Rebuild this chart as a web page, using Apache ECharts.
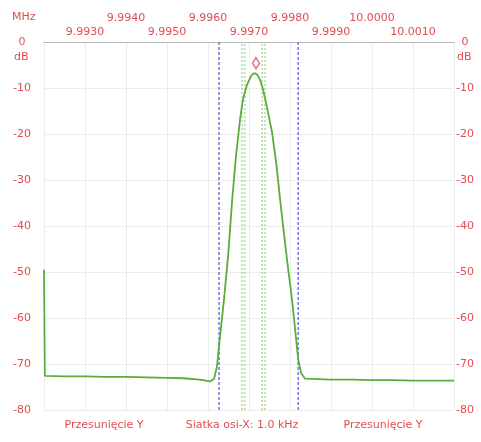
<!DOCTYPE html>
<html>
<head>
<meta charset="utf-8">
<script src="https://cdn.jsdelivr.net/npm/echarts@6/dist/echarts.min.js"></script>
<style>
  html, body { margin: 0; padding: 0; background: #fff; }
  #chart { width: 481px; height: 442px; }
</style>
</head>
<body>
<div id="chart"></div>
<script>
// frequency in MHz, level in dB
const freqs = [
  9.99200, 9.99202, 9.99250, 9.99300, 9.99350, 9.99400, 9.99450, 9.99500, 9.99540, 9.99580,
  9.99605, 9.99615, 9.99622, 9.99627, 9.99639, 9.99649, 9.99659, 9.99668, 9.99678, 9.99685,
  9.99695, 9.99705, 9.99710, 9.99715, 9.99720, 9.99727, 9.99734, 9.99741, 9.99749, 9.99756,
  9.99766, 9.99776, 9.99785, 9.99795, 9.99805, 9.99812, 9.99820, 9.99827, 9.99837, 9.99900,
  9.99950, 10.00000, 10.00050, 10.00100, 10.00150, 10.00200,
];
const levels = [
  -49.5, -72.6, -72.7, -72.7, -72.8, -72.8, -72.9, -73.0, -73.1, -73.4,
  -73.8, -73.2, -70.5, -66, -56, -46.5, -34.3, -25, -17, -12.6,
  -9.3, -7.4, -6.9, -6.8, -7.1, -8.2, -10.2, -13, -16.5, -19.5,
  -26, -34.3, -41.5, -49, -56, -62, -69, -72, -73.2, -73.4,
  -73.4, -73.5, -73.5, -73.6, -73.6, -73.6,
];
const blueMarks = [9.99627, 9.99820];
const greenMarks = [9.99683, 9.99690, 9.99732, 9.99739];
const peakMarker = [9.99717, -4.6];
const bottomTexts = ['Przesunięcie Y', 'Siatka osi-X: 1.0 kHz', 'Przesunięcie Y'];

const RED = '#e24c50';
const FONT = 'DejaVu Sans';

const chart = echarts.init(document.getElementById('chart'));

const xBase = {
  type: 'value',
  min: 9.992,
  max: 10.002,
  interval: 0.001,
  position: 'top',
  axisTick: { show: false },
};
const yBase = {
  type: 'value',
  min: -80,
  max: 0,
  interval: 10,
  axisLine: { show: false },
  axisTick: { show: false },
};

// vertical marker lines as two-point line series
const vLine = (f, color, dash, width) => ({
  type: 'line',
  data: [[f, -80], [f, 0]],
  showSymbol: false,
  silent: true,
  z: 1,
  lineStyle: { color: color, type: dash, width: width },
});

chart.setOption({
  animation: false,
  backgroundColor: '#fff',
  textStyle: { fontFamily: FONT },
  grid: { left: 44, right: 27, top: 42, bottom: 32 },
  xAxis: [
    {
      ...xBase,
      axisLine: { show: true, lineStyle: { color: '#b8b8b8', width: 1 } },
      splitLine: { show: true, lineStyle: { color: '#ececec', width: 1 } },
      axisLabel: {
        color: RED, fontSize: 11, fontFamily: FONT, margin: 4,
        showMinLabel: false, showMaxLabel: false,
        formatter: v => (Math.round(v * 1000) % 2 === 1 ? v.toFixed(4) : ''),
      },
    },
    {
      ...xBase,
      axisLine: { show: false },
      splitLine: { show: false },
      axisLabel: {
        color: RED, fontSize: 11, fontFamily: FONT, margin: 18,
        showMinLabel: false, showMaxLabel: false,
        formatter: v => (Math.round(v * 1000) % 2 === 0 ? v.toFixed(4) : ''),
      },
    },
  ],
  yAxis: [
    {
      ...yBase,
      position: 'left',
      splitLine: { show: true, lineStyle: { color: '#ececec', width: 1 } },
      axisLabel: { color: RED, fontSize: 11, fontFamily: FONT, align: 'center', margin: 22 },
    },
    {
      ...yBase,
      position: 'right',
      splitLine: { show: false },
      axisLabel: { color: RED, fontSize: 11, fontFamily: FONT, align: 'center', margin: 11 },
    },
  ],
  graphic: [
    { type: 'text', left: 12, top: 12, style: { text: 'MHz', fill: RED, font: '11px ' + FONT } },
    { type: 'text', left: 14, top: 52, style: { text: 'dB', fill: RED, font: '11px ' + FONT } },
    { type: 'text', left: 457, top: 52, style: { text: 'dB', fill: RED, font: '11px ' + FONT } },
    { type: 'text', x: 104, y: 425, style: { text: bottomTexts[0], fill: RED, font: '11px ' + FONT, align: 'center', verticalAlign: 'middle' } },
    { type: 'text', x: 242, y: 425, style: { text: bottomTexts[1], fill: RED, font: '11px ' + FONT, align: 'center', verticalAlign: 'middle' } },
    { type: 'text', x: 383, y: 425, style: { text: bottomTexts[2], fill: RED, font: '11px ' + FONT, align: 'center', verticalAlign: 'middle' } },
  ],
  series: [
    ...blueMarks.map(f => vLine(f, '#7474e4', [3, 2], 1.5)),
    ...greenMarks.map(f => vLine(f, '#8cc67c', [2, 2], 1)),
    {
      type: 'line',
      z: 3,
      data: freqs.map((f, i) => [f, levels[i]]),
      showSymbol: false,
      lineStyle: { color: '#5aad3c', width: 1.8 },
    },
    {
      type: 'scatter',
      z: 4,
      data: [peakMarker],
      symbol: 'diamond',
      symbolSize: [7, 11],
      itemStyle: { color: 'rgba(255,255,255,0)', borderColor: '#d84a4a', borderWidth: 1.5 },
    },
  ],
});
</script>
</body>
</html>
